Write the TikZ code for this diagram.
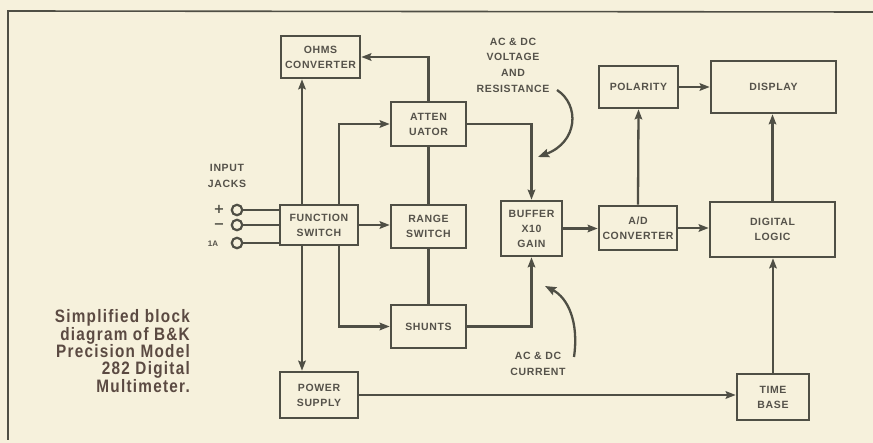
\documentclass[tikz,border=0pt]{standalone}
\usepackage{fontspec}
\setmainfont{Liberation Sans}
\newfontfamily\boxfont[LetterSpace=6]{Liberation Sans}
\newfontfamily\capfont[LetterSpace=7,FakeStretch=0.85]{Liberation Sans}
\newfontfamily\symfont{DejaVu Sans}
\usetikzlibrary{arrows.meta}
\definecolor{bg}{HTML}{F6F1DC}
\definecolor{ink}{HTML}{4F4F45}
\definecolor{txt}{HTML}{55524A}
\definecolor{captxt}{HTML}{5B4A42}
\tikzset{
  blk/.style={draw=ink, line width=2.6pt, fill=bg, align=center, text=txt,
    font=\boxfont\bfseries\fontsize{10.5}{15}\selectfont, inner sep=0pt},
  wire/.style={draw=ink, line width=2.3pt},
  arr/.style={wire, -{Stealth[length=10pt,width=7.5pt,inset=1.5pt]}},
  lbl/.style={text=txt, align=center, font=\boxfont\bfseries\fontsize{10.5}{15.7}\selectfont, inner sep=0pt},
  jack/.style={circle, draw=ink, line width=2.2pt, fill=bg, minimum size=10.5pt, inner sep=0pt},
  sym/.style={text=ink, font=\symfont\bfseries\fontsize{13}{13}\selectfont, inner sep=0pt},
}
\begin{document}
\begin{tikzpicture}[x=1pt,y=-1pt]
\useasboundingbox (0,0) rectangle (873,443);
\fill[bg] (0,0) rectangle (873,443);
% frame
\draw[ink, line width=1.6pt] (873,12) -- (8,11) -- (8,440);
% blocks
\node[blk, minimum width=79pt, minimum height=42pt] (ohms) at (320.5,57) {OHMS\\CONVERTER};
\node[blk, minimum width=75pt, minimum height=44pt] (atten) at (428.5,124) {ATTEN\\UATOR};
\node[blk, minimum width=78pt, minimum height=40pt] (func) at (319,225) {FUNCTION\\SWITCH};
\node[blk, minimum width=75pt, minimum height=43pt] (range) at (428.5,226.5) {RANGE\\SWITCH};
\node[blk, minimum width=75pt, minimum height=43pt] (shunts) at (428.5,326.5) {SHUNTS};
\node[blk, minimum width=78pt, minimum height=46pt] (power) at (319,395) {POWER\\SUPPLY};
\node[blk, minimum width=61pt, minimum height=55pt] (buffer) at (531.5,228.5) {BUFFER\\X10\\GAIN};
\node[blk, minimum width=78pt, minimum height=44pt] (ad) at (638,228) {A/D\\CONVERTER};
\node[blk, minimum width=125pt, minimum height=55pt] (logic) at (772.5,229.5) {DIGITAL\\LOGIC};
\node[blk, minimum width=72pt, minimum height=46pt] (tbase) at (773,397) {TIME\\BASE};
\node[blk, minimum width=79pt, minimum height=42pt] (pol) at (638.5,87) {POLARITY};
\node[blk, minimum width=125pt, minimum height=52pt] (disp) at (773.5,87) {DISPLAY};
% helper coordinates
\coordinate (xa) at (302,0);
\coordinate (xb) at (339,0);
% connectors
\draw[arr] (func.north -| xa) -- (ohms.south -| xa);
\draw[arr] (atten.north) |- (ohms.east);
\draw[arr] (func.north -| xb) |- (atten.west);
\draw[arr] (func.east) -- (func.east -| range.west);
\draw[arr] (func.south -| xb) |- (shunts.west);
\draw[arr] (func.south -| xa) -- (power.north -| xa);
\draw[wire] (atten.south) -- (range.north);
\draw[wire] (range.south) -- (shunts.north);
\draw[arr] (atten.east) -| (buffer.north);
\draw[arr] (shunts.east) -| (buffer.south);
\draw[arr] (buffer.east) -- (buffer.east -| ad.west);
\draw[arr] (ad.east) -- (ad.east -| logic.west);
\draw[arr] (ad.north) -- (pol.south);
\draw[arr] (pol.east) -- (pol.east -| disp.west);
\draw[arr] (logic.north) -- (logic.north |- disp.south);
\draw[arr] (tbase.north) -- (tbase.north |- logic.south);
\draw[arr] (power.east) -- (power.east -| tbase.west);
% input jacks
\node[jack] (j1) at (237,210) {};
\node[jack] (j2) at (237,225) {};
\node[jack] (j3) at (237,243) {};
\draw[wire] (j1.east) -- (j1.east -| func.west);
\draw[wire] (j2.east) -- (j2.east -| func.west);
\draw[wire] (j3.east) -- (j3.east -| func.west);
\node[sym] (plus) at (219,209) {+};
\node[sym] (minus) at (219,226) {−};
\node[lbl, font=\bfseries\fontsize{8}{8}\selectfont] (onea) at (213,243.5) {1A};
\node[lbl] (inp) at (227,176) {INPUT\\JACKS};
% annotations
\node[lbl] (volt) at (513,65) {AC \& DC\\VOLTAGE\\AND\\RESISTANCE};
\coordinate (v1) at (557,90);
\coordinate (v2) at (538,157);
\draw[wire, -{Stealth[length=11pt,width=8.5pt,inset=1.5pt]}] (v1) .. controls (580,105) and (578,142) .. (v2);
\node[lbl] (curr) at (538,364) {AC \& DC\\CURRENT};
\coordinate (c1) at (574,357);
\coordinate (c2) at (545,286);
\draw[wire, -{Stealth[length=11pt,width=8.5pt,inset=1.5pt]}] (c1) .. controls (579,322) and (568,298) .. (c2);
% caption
\node[text=captxt, align=right, anchor=north east, inner sep=0pt,
  font=\capfont\bfseries\fontsize{18}{16.6}\selectfont] (cap) at (190,309)
  {Simplified block\\diagram of B\&K\\Precision Model\\282 Digital\\Multimeter.};
\end{tikzpicture}
\end{document}
